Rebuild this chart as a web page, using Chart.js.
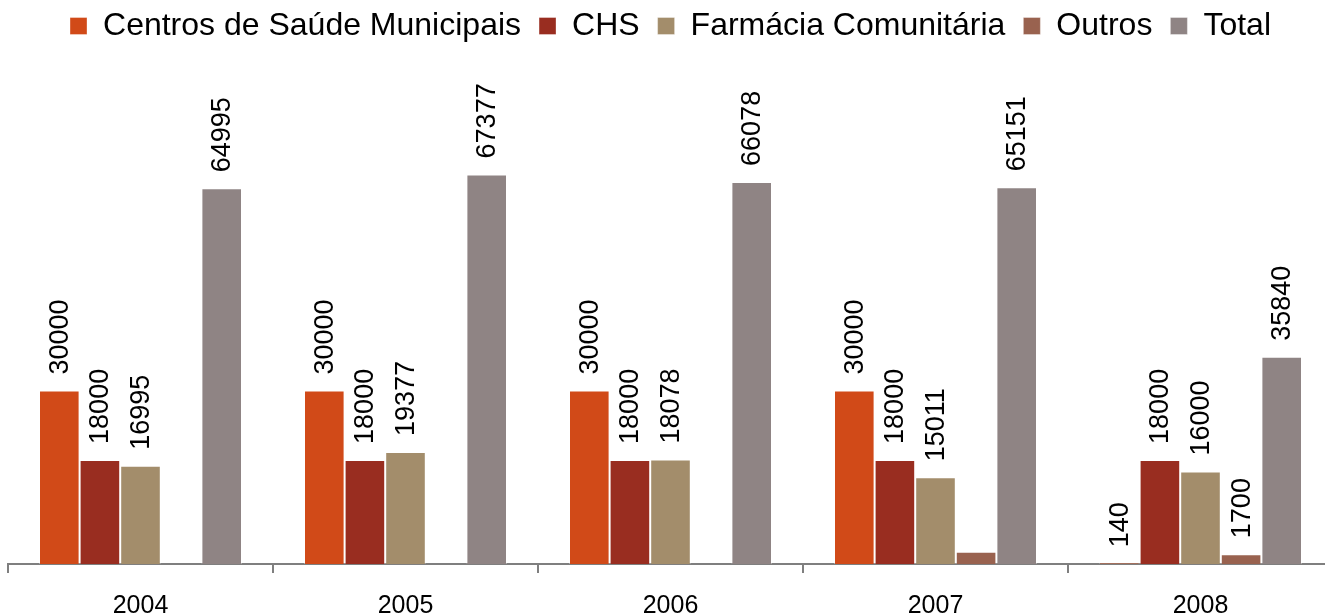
<!DOCTYPE html>
<html lang="pt">
<head>
<meta charset="utf-8">
<title>Vacinação</title>
<script src="https://cdn.jsdelivr.net/npm/chart.js@4/dist/chart.umd.min.js"></script>
<style>
    html, body {
        margin: 0;
        padding: 0;
        background: #ffffff;
        overflow: hidden;
    }
    #caixa {
        width: 1341px;
        height: 616px;
    }
</style>
</head>
<body>
<div id="caixa">
    <canvas id="grafico"></canvas>
</div>
<script>
// Dados
const anos = ["2004", "2005", "2006", "2007", "2008"];

const centrosSaude = [30000, 30000, 30000, 30000, 140];
const chs = [18000, 18000, 18000, 18000, 18000];
const farmacia = [16995, 19377, 18078, 15011, 16000];
const outros = [null, null, null, 2140, 1700];
const total = [64995, 67377, 66078, 65151, 35840];

// rótulos que não aparecem no original (série, ano)
const rotulosOcultos = [["Outros", "2007"]];

const cores = {
    centros: "#d14a18",
    chs: "#992d20",
    farmacia: "#a38d6b",
    outros: "#99624f",
    total: "#8f8484"
};

const fonte = "'Liberation Sans', Arial, sans-serif";

// Valores por cima das barras, rodados
const rotulosBarras = {
    id: "rotulosBarras",
    afterDatasetsDraw(chart) {
        const ctx = chart.ctx;
        ctx.save();
        ctx.font = "27px " + fonte;
        ctx.fillStyle = "#000000";
        ctx.textAlign = "left";
        ctx.textBaseline = "middle";
        chart.data.datasets.forEach((ds, i) => {
            const meta = chart.getDatasetMeta(i);
            meta.data.forEach((barra, j) => {
                const valor = ds.data[j];
                if (valor === null) return;
                const oculto = rotulosOcultos.some(r => r[0] === ds.label && r[1] === anos[j]);
                if (oculto) return;
                ctx.save();
                ctx.translate(barra.x + 1, barra.y - 16);
                ctx.rotate(-Math.PI / 2);
                ctx.fillText(String(valor), 0, 0);
                ctx.restore();
            });
        });
        ctx.restore();
    }
};

function serie(nome, dados, cor) {
    return {
        label: nome,
        data: dados,
        backgroundColor: cor,
        borderColor: "rgba(255,255,255,0.35)",
        borderWidth: 1,
        categoryPercentage: 0.766,
        barPercentage: 1.0
    };
}

new Chart(document.getElementById("grafico"), {
    type: "bar",
    data: {
        labels: anos,
        datasets: [
            serie("Centros de Saúde Municipais", centrosSaude, cores.centros),
            serie("CHS", chs, cores.chs),
            serie("Farmácia Comunitária", farmacia, cores.farmacia),
            serie("Outros", outros, cores.outros),
            serie("Total", total, cores.total)
        ]
    },
    options: {
        responsive: true,
        maintainAspectRatio: false,
        animation: false,
        layout: {
            padding: { top: -8, left: 8, right: 8, bottom: -23 }
        },
        plugins: {
            legend: {
                position: "top",
                labels: {
                    boxWidth: 17,
                    boxHeight: 17,
                    padding: 18,
                    color: "#000000",
                    font: { family: fonte, size: 32 }
                }
            },
            tooltip: { enabled: false }
        },
        scales: {
            x: {
                grid: {
                    display: true,
                    drawOnChartArea: false,
                    drawTicks: true,
                    tickLength: 9,
                    color: "#7f7f7f",
                    lineWidth: 2
                },
                border: {
                    display: true,
                    color: "#7f7f7f",
                    width: 2
                },
                ticks: {
                    color: "#000000",
                    padding: 18,
                    font: { family: fonte, size: 25 }
                }
            },
            y: {
                display: false,
                min: 0,
                max: 88550
            }
        }
    },
    plugins: [rotulosBarras]
});
</script>
</body>
</html>
